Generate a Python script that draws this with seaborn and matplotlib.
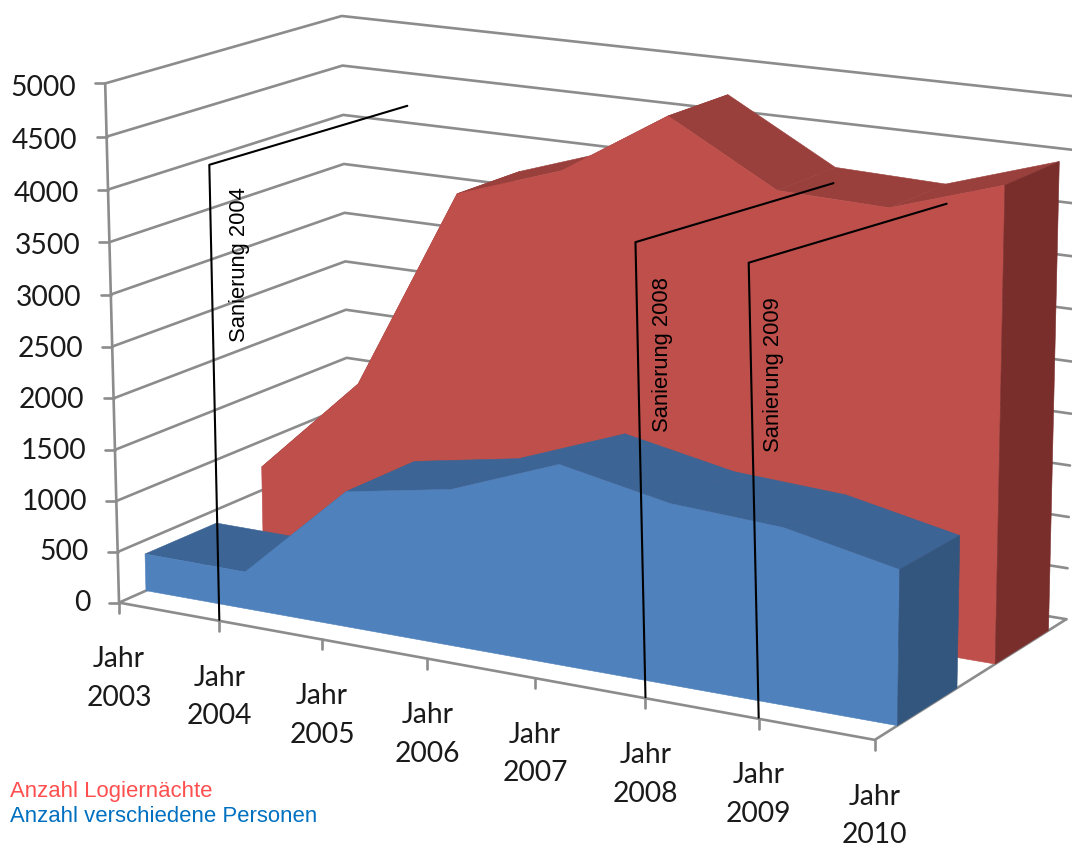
import numpy as np
import matplotlib
matplotlib.use("Agg")
import matplotlib.pyplot as plt
from matplotlib.patches import Polygon
import seaborn as sns

# values
years = ["2003", "2004", "2005", "2006", "2007", "2008", "2009", "2010"]
nights = [737, 1735, 3750, 4098, 4740, 4165, 4133, 4470]
people = [365, 360, 1310, 1497, 1895, 1695, 1640, 1428]
value_ticks = [0, 500, 1000, 1500, 2000, 2500, 3000, 3500, 4000, 4500, 5000]

# renovation markers, the same hand drawn bracket each time
marker_years = ["2004", "2008", "2009"]
marker_text_dx = [20, 17, 15]
marker_text_dy = [-355, -343, -343]

# frame corners: (category, value, depth) -> pixel in the reference
frame_points = [
    ((0, 0, 0), (119, 601)), ((7, 0, 0), (875, 741)), ((7, 0, 1), (1066, 618)),
    ((0, 0, 1), (349, 503)), ((0, 5000, 0), (105, 84)), ((0, 5000, 1), (342, 16)),
    ((7, 5000, 1), (1079, 97)), ((0, 2500, 1), (345, 260)),
]

blue_depth = (0.11, 0.41)
red_depth = (0.61, 0.90)

GRID = "#8c8c8c"
LABEL = "#1a1a1a"


def fit_camera(points):
    rows = []
    for (c, v, d), (u, w) in points:
        X = [c / 7, v / 5000, d, 1]
        rows.append(X + [0, 0, 0, 0] + [-u * a for a in X])
        rows.append([0, 0, 0, 0] + X + [-w * a for a in X])
    return np.linalg.svd(np.array(rows))[2][-1].reshape(3, 4)


P = fit_camera(frame_points)


def project(cat, value, depth):
    cat, value, depth = np.broadcast_arrays(
        np.asarray(cat, float), np.asarray(value, float), np.asarray(depth, float))
    X = np.stack([cat / 7, value / 5000, depth, np.ones(cat.shape)])
    u, w, s = P @ X
    return u / s, w / s


def draw_path(ax, u, w, color=GRID, lw=1.9, zorder=2):
    sns.lineplot(x=u, y=w, sort=False, estimator=None, ax=ax, color=color,
                 linewidth=lw, legend=False, zorder=zorder)


def line(ax, cat, value, depth):
    u, w = project(cat, value, depth)
    draw_path(ax, u, w)


def face(ax, cat, value, depth, color):
    u, w = project(cat, value, depth)
    ax.add_patch(Polygon(np.column_stack([u, w]), closed=True, facecolor=color,
                         edgecolor=color, linewidth=0.4, zorder=3))


def area(ax, values, depth, front, top, side):
    cats = np.arange(len(values))
    d0, d1 = depth
    # top surface first, the front face covers what is hidden
    for i in range(len(values) - 1):
        face(ax, [i, i + 1, i + 1, i], [values[i], values[i + 1], values[i + 1], values[i]],
             [d0, d0, d1, d1], top)
    face(ax, np.r_[cats, cats[-1], cats[0]], np.r_[values, 0, 0], d0, front)
    face(ax, cats[-1], [0, values[-1], values[-1], 0], [d0, d0, d1, d1], side)


sns.set_theme(style="white")

fig = plt.figure(figsize=(10.72, 8.48), dpi=100)
ax = fig.add_axes([0, 0, 1, 1])

# walls and floor
for v in value_ticks:
    line(ax, [0, 0, 7], v, [0, 1, 1])
line(ax, [0, 0], [0, 5000], 0)
line(ax, [0, 7, 7], 0, [0, 0, 1])

# value axis
for v in value_ticks:
    u, w = project(0, v, 0)
    draw_path(ax, [u - 10, u], [w, w])
    ax.text(u - 29, w + v / 1000, str(v), ha="right", va="center", fontsize=20.3, family="Lato", color=LABEL)

# category axis
for i, year in enumerate(years):
    u, w = project(i, 0, 0)
    draw_path(ax, [u, u], [w, w + 10])
    ax.text(u, w + 76, f"Jahr\n{year}", ha="center", va="center", fontsize=20.3, family="Lato",
            color=LABEL, linespacing=1.6)

area(ax, nights, red_depth, "#BE4F4B", "#9A403C", "#7A2E2C")
area(ax, people, blue_depth, "#4F81BD", "#3C6494", "#33567F")

# renovation markers
for year, dx, dy in zip(marker_years, marker_text_dx, marker_text_dy):
    u, w = project(years.index(year), 10, 0)
    draw_path(ax, [u, u - 10, u + 188], [w, w - 455, w - 514], color="black", lw=1.5, zorder=4)
    ax.text(u + dx, w + dy, f"Sanierung {year}", rotation=90, ha="center", va="center",
            fontsize=15.8, family="Liberation Sans", color="black", zorder=5)

ax.text(10, 791, "Anzahl Logiernächte", color="#FF4F4F", fontsize=15.9, va="center", family="Liberation Sans")
ax.text(10, 816, "Anzahl verschiedene Personen", color="#0070C0", fontsize=15.9, va="center", family="Liberation Sans")

ax.set_xlim(0, 1072)
ax.set_ylim(848, 0)
ax.axis("off")
fig.savefig("out.png", dpi=100)
